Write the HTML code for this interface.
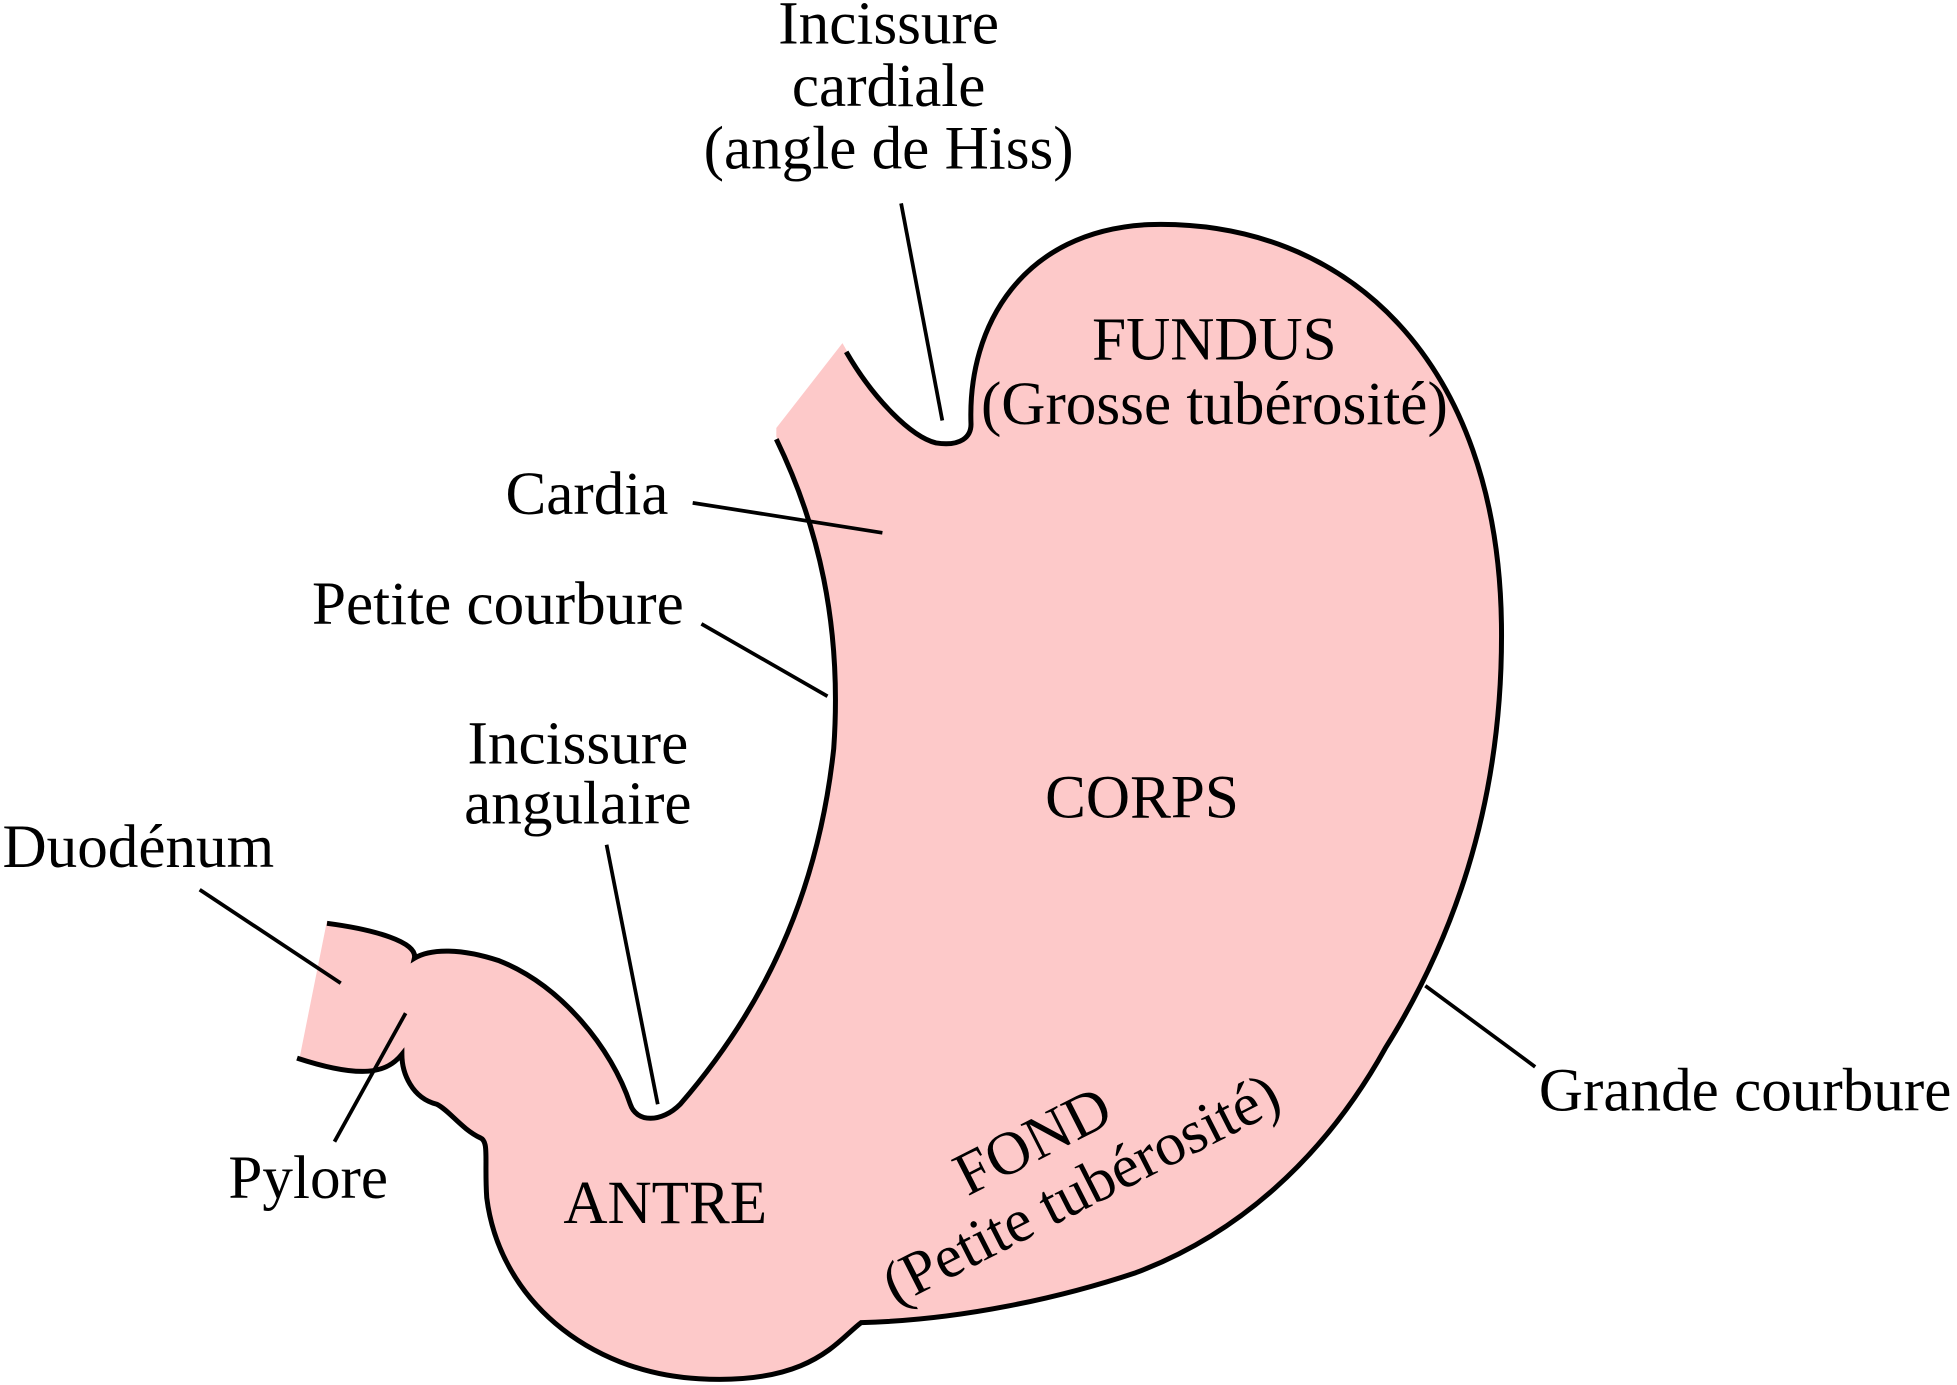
<!DOCTYPE html>
<html><head><meta charset="utf-8"><style>
html,body{margin:0;padding:0;background:#fff;}
svg{display:block;}
text{font-family:"Liberation Serif",serif;font-size:49px;fill:#000;}
</style></head><body>
<svg width="1957" height="1385" viewBox="0 0 1568 1110" preserveAspectRatio="none" xmlns="http://www.w3.org/2000/svg">
<path fill="#fdc9c9" stroke="none" d="M622,343 L675,275 C700,320 730,350 750,355 C770,358 778,350 778,340 C775,260 820,185 920,180 C1080,175 1200,290 1203,500 C1205,650 1160,760 1110,840 C1060,930 990,990 910,1020 C850,1040 770,1058 690,1060 C670,1075 650,1110 560,1105 C470,1100 400,1040 390,960 C388,930 392,915 385,912 C370,905 360,890 350,885 C330,880 322,860 322,845 C310,860 290,865 240,848 L262,738 C300,745 335,755 332,768 C345,760 370,760 400,770 C450,790 490,840 505,885 C510,900 530,900 545,885 C610,810 655,720 668,600 C675,500 655,420 622,350 Z"/>
<g fill="none" stroke="#000" stroke-width="4">
<path d="M678,282 C700,320 730,350 750,355 C770,358 778,350 778,340 C775,260 820,185 920,180 C1080,175 1200,290 1203,500 C1205,650 1160,760 1110,840 C1060,930 990,990 910,1020 C850,1040 770,1058 690,1060 C670,1075 650,1110 560,1105 C470,1100 400,1040 390,960 C388,930 392,915 385,912 C370,905 360,890 350,885 C330,880 322,860 322,845 C310,860 290,865 238,848"/>
<path d="M262,740 C300,745 335,755 332,768 C345,760 370,760 400,770 C450,790 490,840 505,885 C510,900 530,900 545,885 C610,810 655,720 668,600 C675,500 655,420 622,352"/>
</g>
<g stroke="#000" stroke-width="3">
<line x1="722" y1="163" x2="755" y2="337"/>
<line x1="555" y1="403" x2="707" y2="427"/>
<line x1="562" y1="500" x2="663" y2="558"/>
<line x1="486" y1="677" x2="527" y2="885"/>
<line x1="160" y1="713" x2="273" y2="788"/>
<line x1="268" y1="915" x2="325" y2="812"/>
<line x1="1142" y1="790" x2="1230" y2="855"/>
</g>
<g text-anchor="middle">
<text x="712" y="35">Incissure</text>
<text x="712" y="85">cardiale</text>
<text x="712" y="135">(angle de Hiss)</text>
<text x="973" y="288">FUNDUS</text>
<text x="973" y="340">(Grosse tubérosité)</text>
<text x="463" y="612">Incissure</text>
<text x="463" y="660">angulaire</text>
<text x="915" y="655">CORPS</text>
<text x="533" y="980">ANTRE</text>
<g transform="rotate(-27 862 945)">
<text x="845" y="918">FOND</text>
<text x="862" y="970">(Petite tubérosité)</text>
</g>
</g>
<text x="405" y="412">Cardia</text>
<text x="250" y="500">Petite courbure</text>
<text x="2" y="695">Duodénum</text>
<text x="183" y="960">Pylore</text>
<text x="1233" y="890">Grande courbure</text>
</svg>
</body></html>
